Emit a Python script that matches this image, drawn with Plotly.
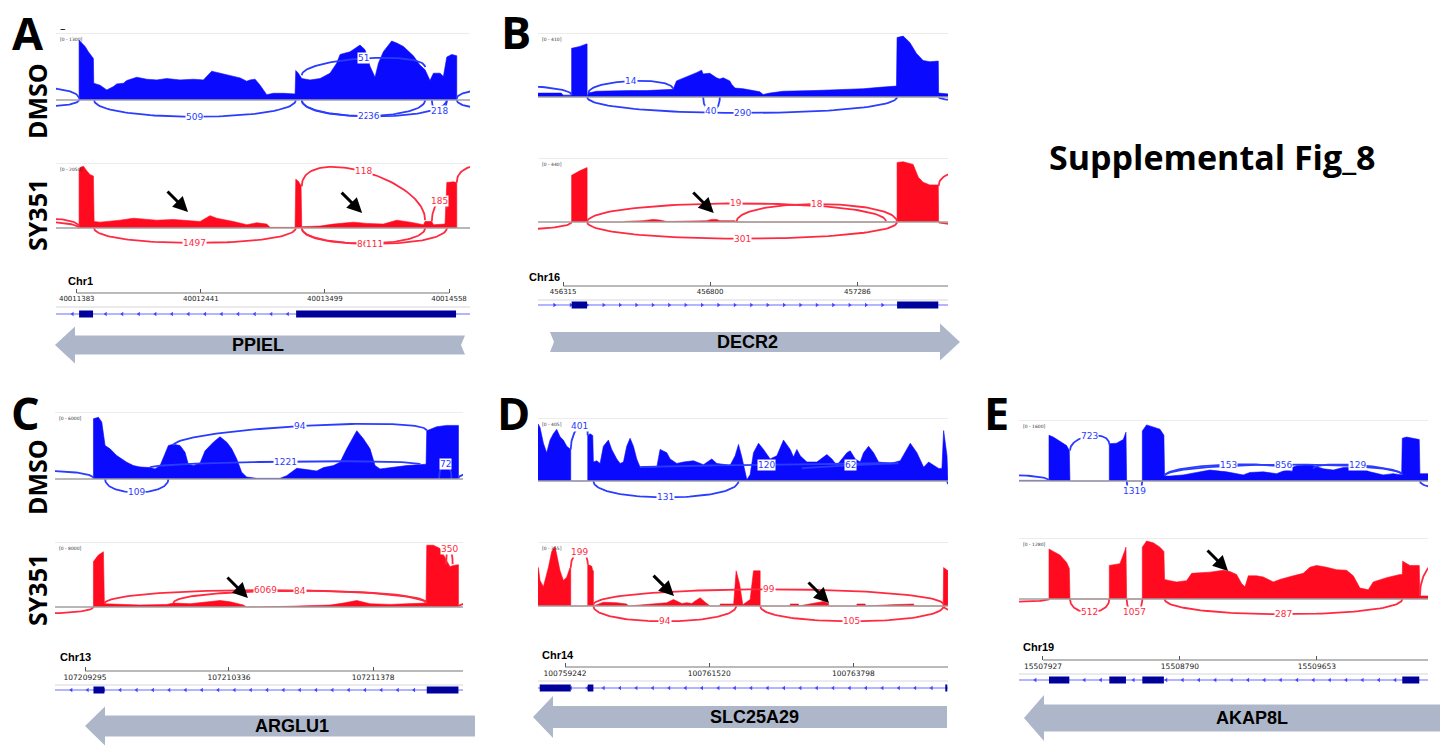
import numpy as np
import plotly.graph_objects as go

W, H = 1445, 746

# ------------------------------------------------------------------ data
# positions are bp offsets from the first ruler tick (region start)
A_chrom, A_start, A_gene, A_strand = "Chr1", 40011383, "PPIEL", -1
A_view = [-177, 3354]
A_ticks = [40011383, 40012441, 40013499, 40014558]
A_exons = [(20, 139), (1871, 3235)]
A_scales = [1300, 2050]
A_dmso_pos = [20, 20, 43, 71, 99, 128, 142, 145, 199, 256, 313, 341, 398, 426, 512, 597, 682, 768,
              881, 995, 1080, 1151, 1222, 1308, 1393, 1450, 1478, 1521, 1564, 1620, 1677, 1763, 1862,
              1868, 1890, 1919, 1990, 2075, 2160, 2217, 2246, 2331, 2416, 2459, 2502, 2544, 2573, 2615,
              2686, 2729, 2786, 2871, 2928, 2971, 3013, 3042, 3099, 3127, 3156, 3198, 3241, 3241]
A_dmso_cov = [0, 1157, 1105, 1040, 936, 858, 806, 325, 286, 195, 260, 312, 325, 377, 442, 403, 390, 416,
              390, 403, 390, 559, 520, 481, 429, 364, 390, 403, 286, 104, 130, 130, 117,
              572, 520, 416, 390, 416, 520, 715, 884, 936, 1066, 975, 650, 442, 715, 936,
              1144, 1105, 1040, 858, 676, 585, 377, 520, 520, 455, 832, 884, 858, 0]
A_sy_pos = [20, 20, 28, 57, 85, 114, 142, 148, 199, 284, 369, 483, 568, 682, 824, 938, 1052, 1137,
            1194, 1336, 1450, 1535, 1620, 1649, 1862, 1868, 1890, 1913, 1919, 2075, 2189, 2360, 2474,
            2615, 2729, 2843, 2957, 2971, 3028, 3042, 3141, 3156, 3212, 3241, 3241]
A_sy_cov = [0, 1800, 1907, 1948, 1804, 1681, 1640, 205, 185, 205, 246, 308, 287, 246, 267, 246, 205, 390,
            308, 205, 103, 164, 123, 20, 20, 1538, 1476, 1333, 41, 62, 123, 185, 144,
            123, 246, 185, 103, 205, 205, 103, 123, 1435, 1456, 1435, 0]
# junctions: (label, start, end, peak, y_start, y_end) heights as fraction of track scale
A_dmso_arcs = [("509", 148, 1868, -0.25, 0, 0), ("22", 1919, 2971, -0.24, 0, 0),
               ("36", 1919, 3156, -0.245, 0, 0), ("218", 3028, 3156, -0.17, 0, 0),
               ("51", 1919, 2971, 0.62, 0.37, 0.49), ("", -700, 20, 0.18, 0, 0.02),
               ("", -700, 20, -0.1, 0, 0), ("", 3241, 4000, 0.16, 0.02, 0), ("", 3241, 4000, -0.14, 0, 0)]
A_sy_arcs = [("1497", 148, 1868, -0.23, 0, 0), ("86", 1919, 2971, -0.24, 0, 0),
             ("111", 1919, 3156, -0.245, 0, 0), ("118", 1919, 2971, 0.87, 0.64, 0.12),
             ("185", 3028, 3156, 0.42, 0.10, 0.3), ("", 3241, 4500, 0.85, 0.7, 0),
             ("", -700, 20, 0.15, 0, 0.02), ("", -800, 20, 0.1, 0, 0)]
A_marks = [(949, 505), (2434, 471)]

B_chrom, B_start, B_gene, B_strand = "Chr16", 456315, "DECR2", 1
B_view = [-83, 1270]
B_ticks = [456315, 456800, 457286]
B_exons = [(28, 79), (1102, 1238)]
B_scales = [410, 440]
B_dmso_pos = [-83, -6, 0, 26, 28, 28, 55, 77, 79, 79, 83, 110, 165, 220, 275, 330, 363, 374, 396, 418,
              440, 457, 462, 484, 506, 517, 528, 550, 556, 567, 594, 627, 649, 660, 682, 726, 770, 825,
              880, 935, 990, 1045, 1100, 1102, 1122, 1144, 1166, 1188, 1210, 1238, 1239, 1270]
B_dmso_cov = [25, 25, 12, 12, 12, 312, 324, 340, 340, 0, 25, 37, 41, 41, 41, 45, 49, 103, 119, 135,
              156, 172, 148, 152, 123, 115, 123, 103, 82, 57, 53, 41, 33, 16, 25, 37, 37, 41,
              45, 49, 53, 62, 70, 381, 390, 349, 279, 234, 226, 230, 25, 20]
B_sy_pos = [28, 28, 55, 77, 79, 79, 204, 204, 264, 297, 319, 341, 363, 440, 457, 473, 490, 506, 517, 567,
            572, 1023, 1023, 1056, 1056, 1102, 1102, 1122, 1155, 1172, 1188, 1210, 1238, 1239]
B_sy_cov = [0, 321, 352, 374, 374, 0, 0, 4, 9, 18, 13, 4, 4, 9, 13, 9, 18, 18, 9, 9,
            0, 0, 4, 4, 0, 0, 409, 414, 396, 308, 273, 255, 255, 0]
B_dmso_arcs = [("14", 83, 363, 0.25, 0.06, 0.12), ("290", 79, 1102, -0.25, 0, 0),
               ("40", 462, 517, -0.22, 0, 0), ("", -500, 28, 0.18, 0, 0.03), ("", 1239, 1700, -0.08, 0, 0)]
B_sy_arcs = [("19", 79, 1065, 0.29, 0, 0.01), ("18", 572, 1102, 0.28, 0, 0),
             ("301", 79, 1102, -0.26, 0, 0), ("", -500, 28, -0.13, 0, 0),
             ("", 1239, 1800, 0.72, 0.56, 0), ("", 1239, 1500, -0.04, 0, 0)]
B_marks = [(497, 62)]

C_chrom, C_start, C_gene, C_strand = "Chr13", 107209295, "ARGLU1", -1
C_view = [-217, 2733]
C_ticks = [107209295, 107210336, 107211378]
C_exons = [(61, 140), (2471, 2700)]
C_scales = [6000, 8000]
C_dmso_pos = [61, 61, 97, 121, 145, 181, 229, 302, 350, 398, 470, 506, 543, 579, 603, 639, 687, 723, 747,
              784, 832, 868, 904, 928, 976, 1025, 1061, 1097, 1133, 1169, 1242, 1410, 1458, 1531, 1603,
              1675, 1724, 1796, 1844, 1892, 1965, 2013, 2061, 2097, 2133, 2206, 2326, 2466, 2471, 2543,
              2615, 2688, 2700, 2700]
C_dmso_cov = [0, 5400, 5520, 5100, 3000, 2700, 2100, 1500, 1200, 1080, 1020, 900, 1200, 2280, 3000, 3120,
              3000, 2400, 1320, 1200, 1440, 2520, 3000, 3300, 3780, 3300, 2700, 1800, 600, 180, 60, 60,
              300, 960, 840, 720, 1020, 1200, 1500, 2700, 4320, 3600, 2700, 1200, 900, 1020, 1200, 1320,
              4320, 4680, 4800, 4800, 4800, 0]
C_sy_pos = [61, 61, 97, 133, 140, 278, 398, 591, 639, 760, 880, 976, 1049, 1145, 1169, 1460, 1470, 1603,
            1772, 1868, 1965, 2061, 2206, 2326, 2466, 2471, 2519, 2567, 2615, 2639, 2663, 2688, 2700, 2700]
C_sy_cov = [0, 5600, 6400, 6800, 400, 320, 240, 320, 480, 400, 640, 800, 640, 240, 0, 0, 80, 160,
            240, 480, 800, 400, 320, 400, 480, 7600, 7600, 7200, 5600, 4960, 5120, 5200, 5200, 0]
C_dmso_arcs = [("94", 639, 2471, 0.79, 0.5, 0.72), ("1221", 470, 2422, 0.26, 0.17, 0.22),
               ("72", 2560, 2650, 0.22, 0, 0), ("109", 145, 603, -0.2, 0, 0),
               ("", -700, 61, 0.12, 0, 0.01), ("", 2700, 3100, 0.1, 0.01, 0)]
C_sy_arcs = [("6069", 140, 2471, 0.26, 0.05, 0.05), ("84", 639, 2471, 0.25, 0.06, 0.06),
             ("350", 2610, 2658, 0.9, 0.66, 0.66), ("", -700, 61, -0.1, 0, 0), ("", 2700, 3100, 0.08, 0, 0)]
C_marks = [(1178, 1108)]

D_chrom, D_start, D_gene, D_strand = "Chr14", 100759242, "SLC25A29", -1
D_view = [-427, 6051]
D_ticks = [100759242, 100761520, 100763798]
D_exons = [(-400, 90), (359, 448), (6008, 6040)]
D_scales = [405, 355]
D_dmso_pos = [-427, -421, -395, -342, -290, -237, -184, -131, -79, -26, 27, 79, 90, 90, 359, 359, 396, 438,
              448, 501, 554, 606, 685, 738, 817, 870, 923, 975, 1028, 1081, 1133, 1186, 1450, 1502, 1555,
              1608, 1660, 1766, 1871, 2029, 2187, 2319, 2398, 2609, 2688, 2741, 2793, 2846, 2873, 2925,
              2978, 3057, 3136, 3241, 3347, 3452, 3558, 3610, 3663, 3716, 3821, 3979, 4137, 4216, 4295,
              4454, 4506, 4585, 4664, 4717, 4796, 4875, 4954, 5139, 5297, 5455, 5560, 5666, 5745, 5824,
              5903, 5955, 5982, 6035, 6050]
D_dmso_cov = [340, 365, 344, 243, 182, 263, 304, 332, 284, 263, 223, 203, 203, 0, 0, 292, 304, 292,
              122, 130, 113, 223, 263, 203, 142, 113, 122, 223, 275, 223, 142, 89, 89, 203, 194,
              182, 142, 113, 122, 130, 105, 142, 113, 101, 162, 235, 154, 41, 8, 41,
              182, 243, 203, 142, 162, 263, 203, 154, 203, 162, 122, 122, 170, 142, 101,
              182, 194, 142, 122, 182, 223, 182, 122, 113, 130, 243, 182, 89, 122, 101,
              81, 81, 324, 162, 0]
D_sy_pos = [-427, -421, -395, -342, -263, -210, -158, -131, -79, -26, 27, 79, 90, 90, 359, 359, 422, 438,
            448, 448, 501, 606, 817, 975, 1002, 1423, 1608, 1713, 1766, 1845, 1924, 2003, 2056, 2135,
            2214, 2266, 2293, 2451, 2451, 2662, 2662, 2704, 2757, 2809, 2925, 2978, 3083, 3083, 3558,
            3558, 3689, 3689, 4006, 4085, 4164, 4164, 4612, 4612, 4743, 4743, 5165, 5244, 5402, 5508,
            5508, 5975, 5982, 6050]
D_sy_cov = [200, 213, 142, 107, 213, 302, 330, 284, 195, 142, 160, 213, 213, 0, 0, 231, 220, 195,
            195, 0, 7, 21, 18, 11, 0, 11, 18, 36, 28, 14, 18, 14, 28, 46,
            21, 7, 0, 0, 11, 11, 0, 195, 124, 7, 36, 195, 195, 0, 0,
            11, 11, 0, 18, 25, 14, 0, 0, 11, 11, 0, 7, 7, 11, 11,
            0, 0, 213, 195]
D_dmso_arcs = [("401", 90, 359, 0.87, 0.5, 0.72), ("120", 1186, 5191, 0.26, 0.22, 0.28),
               ("62", 3742, 5270, 0.25, 0.2, 0.28), ("131", 448, 2741, -0.26, 0, 0),
               ("", 6035, 6500, -0.1, 0, 0)]
D_sy_arcs = [("199", 90, 359, 0.84, 0.6, 0.65), ("99", 448, 5982, 0.26, 0.02, 0.02),
             ("94", 448, 2704, -0.24, 0, 0), ("105", 3083, 5982, -0.24, 0, 0),
             ("", 5982, 6500, -0.08, 0, 0)]
D_marks = [(1722, 55), (4171, 17)]

E_chrom, E_start, E_gene, E_strand = "Chr19", 15507927, "AKAP8L", -1
E_view = [-151, 2426]
E_ticks = [15507927, 15508790, 15509653]
E_exons = [(38, 166), (418, 523), (626, 762), (2264, 2371)]
E_scales = [1600, 1280]
E_dmso_pos = [-151, 34, 38, 38, 65, 107, 149, 166, 170, 418, 418, 464, 506, 523, 527, 626, 626, 653, 695,
              737, 762, 766, 800, 884, 968, 1052, 1157, 1262, 1304, 1388, 1472, 1556, 1598, 1682, 1766,
              1829, 1892, 1976, 2060, 2144, 2207, 2260, 2264, 2291, 2333, 2371, 2375, 2426]
E_dmso_cov = [16, 16, 16, 1200, 1152, 1040, 928, 800, 0, 0, 976, 992, 1088, 1280, 0, 0, 1312, 1472, 1408,
              1360, 1200, 128, 128, 160, 224, 288, 240, 160, 224, 240, 192, 320, 400, 432, 320,
              288, 352, 352, 240, 160, 192, 160, 1120, 1152, 1120, 1088, 192, 192]
E_sy_pos = [38, 38, 65, 107, 149, 166, 170, 418, 418, 485, 517, 523, 527, 626, 626, 653, 695, 737, 762,
            766, 800, 842, 905, 937, 989, 1052, 1136, 1178, 1220, 1252, 1273, 1294, 1346, 1388, 1451,
            1493, 1577, 1640, 1682, 1724, 1787, 1850, 1913, 1955, 1997, 2050, 2081, 2165, 2249, 2264,
            2266, 2312, 2371, 2375, 2426]
E_sy_cov = [0, 1050, 998, 922, 768, 640, 0, 0, 704, 742, 1024, 1088, 0, 0, 1088, 1216, 1178, 1088, 998,
            410, 384, 358, 384, 538, 550, 563, 602, 576, 512, 320, 256, 486, 486, 461, 358,
            410, 486, 538, 666, 704, 666, 614, 602, 486, 230, 192, 358, 448, 512, 512,
            794, 704, 704, 64, 64]
E_dmso_arcs = [("723", 170, 418, 0.74, 0.5, 0.6), ("153", 766, 1566, 0.27, 0.08, 0.15),
               ("856", 766, 2264, 0.27, 0.08, 0.1), ("129", 1703, 2264, 0.26, 0.2, 0.1),
               ("1319", 527, 626, -0.17, 0, 0), ("", -600, 38, 0.1, 0, 0.01), ("", 2375, 2800, -0.13, 0, 0)]
E_sy_arcs = [("512", 170, 418, -0.22, 0, 0), ("1057", 527, 626, -0.22, 0, 0),
             ("287", 766, 2264, -0.25, 0, 0), ("", -600, 38, -0.05, 0, 0), ("", 2375, 2800, 0.7, 0.05, 0)]
E_marks = [(1166, 588)]

TITLE = "Supplemental Fig_8"

PANELS = [
    ("A", A_chrom, A_start, A_view, A_ticks, A_gene, A_strand, A_exons, A_scales,
     [(A_dmso_pos, A_dmso_cov, A_dmso_arcs), (A_sy_pos, A_sy_cov, A_sy_arcs)], A_marks),
    ("B", B_chrom, B_start, B_view, B_ticks, B_gene, B_strand, B_exons, B_scales,
     [(B_dmso_pos, B_dmso_cov, B_dmso_arcs), (B_sy_pos, B_sy_cov, B_sy_arcs)], B_marks),
    ("C", C_chrom, C_start, C_view, C_ticks, C_gene, C_strand, C_exons, C_scales,
     [(C_dmso_pos, C_dmso_cov, C_dmso_arcs), (C_sy_pos, C_sy_cov, C_sy_arcs)], C_marks),
    ("D", D_chrom, D_start, D_view, D_ticks, D_gene, D_strand, D_exons, D_scales,
     [(D_dmso_pos, D_dmso_cov, D_dmso_arcs), (D_sy_pos, D_sy_cov, D_sy_arcs)], D_marks),
    ("E", E_chrom, E_start, E_view, E_ticks, E_gene, E_strand, E_exons, E_scales,
     [(E_dmso_pos, E_dmso_cov, E_dmso_arcs), (E_sy_pos, E_sy_cov, E_sy_arcs)], E_marks),
]

# ------------------------------------------------------------------ layout geometry (pixels)
GEOM = {
    "A": dict(x0=56, x1=470, tr=[(33, 100), (163, 228)], ruler=293, ruler_last=True, gene_y=314,
              chr=(66, 281), letter=(28, 32), tick_fs=7,
              arrow=dict(tip=55, hb=75, tail=465, cy=345, hh=18.5, sh=9.5, notch=4), name_x=258),
    "B": dict(x0=538, x1=948, tr=[(33, 97), (158, 222)], ruler=286, ruler_last=False, gene_y=305,
              chr=(527, 277), letter=(516, 31), tick_fs=7,
              arrow=dict(tip=960, hb=940, tail=550, cy=342, hh=18.5, sh=10, notch=4), name_x=747),
    "C": dict(x0=55, x1=463, tr=[(412, 479), (542, 607)], ruler=671, ruler_last=False, gene_y=690,
              chr=(58, 657), letter=(25, 412), tick_fs=7.5,
              arrow=dict(tip=85, hb=105, tail=475, cy=726, hh=19.5, sh=10.5, notch=0), name_x=292),
    "D": dict(x0=538, x1=948, tr=[(418, 481), (542, 606)], ruler=667, ruler_last=False, gene_y=688,
              chr=(540, 655), letter=(513, 412), tick_fs=7.5,
              arrow=dict(tip=533, hb=553, tail=947, cy=717, hh=21, sh=11, notch=0), name_x=754),
    "E": dict(x0=1019, x1=1428, tr=[(420, 481), (538, 599)], ruler=660, ruler_last=False, gene_y=680,
              chr=(1021, 647), letter=(996, 412), tick_fs=7.5,
              arrow=dict(tip=1024, hb=1044, tail=1440, cy=718, hh=23, sh=13.5, notch=0), name_x=1252),
}
COND_LABELS = [(37, 101, "DMSO"), (37, 215, "SY351"), (37, 477, "DMSO"), (37, 590, "SY351")]

FILL = ["#0a0aff", "#ff0a1e"]
ARC = ["#2a3cff", "#ff2a40"]
GREY_ARROW = "#adb7c9"
BELOW_PX = 22


def fx(p):
    return p / W


def fy(p):
    return 1 - p / H


def arc_xy(x0, x1, y0, y1, peak, m=70):
    k = (peak - (y0 + y1) / 2) / 0.75
    t = np.linspace(0, 1, m)
    c0, c1, c2, c3 = (1 - t) ** 3, 3 * (1 - t) ** 2 * t, 3 * (1 - t) * t ** 2, t ** 3
    xs = (c0 + c1) * x0 + (c2 + c3) * x1
    ys = c0 * y0 + c1 * (y0 + k) + c2 * (y1 + k) + c3 * y1
    return xs, ys


fig = go.Figure()
layout = dict(width=W, height=H, margin=dict(l=0, r=0, t=0, b=0), paper_bgcolor="white",
              plot_bgcolor="white", showlegend=False)
shapes, ann = [], []
count = [0]


def new_axes(xdom, ydom, xrange, yrange):
    count[0] += 1
    n = count[0]
    xa, ya = ("xaxis", "yaxis") if n == 1 else (f"xaxis{n}", f"yaxis{n}")
    xr, yr = ("x", "y") if n == 1 else (f"x{n}", f"y{n}")
    layout[xa] = dict(domain=xdom, range=xrange, visible=False, anchor=yr, fixedrange=True)
    layout[ya] = dict(domain=ydom, range=yrange, visible=False, anchor=xr, fixedrange=True)
    return xr, yr, xa


def text_ann(x, y, text, size, family="Open Sans", angle=0, xanchor="center"):
    return dict(x=fx(x), y=fy(y), xref="paper", yref="paper", text=text, showarrow=False,
                xanchor=xanchor, yanchor="middle", textangle=angle,
                font=dict(size=size, color="black", family=family))


for (key, chrom, start, view, ticks, gene, strand, exons, scales, tracks, marks) in PANELS:
    g = GEOM[key]
    xdom = [fx(g["x0"]), fx(g["x1"])]
    xrange = [start + view[0], start + view[1]]
    sy_axes = None
    for ti, ((pos, cov, arcs), S, (top, base)) in enumerate(zip(tracks, scales, g["tr"])):
        ymin = -S * BELOW_PX / (base - top)
        xr, yr, _ = new_axes(xdom, [fy(base + BELOW_PX), fy(top)], xrange, [ymin, S])
        if ti == 1:
            sy_axes = (xr, yr)
        shapes.append(dict(type="line", xref=f"{xr} domain", x0=0, x1=1, yref=yr, y0=S, y1=S,
                           line=dict(color="#dadada", width=1), layer="below"))
        fig.add_trace(go.Scatter(x=[start + p for p in pos], y=cov, mode="lines", fill="tozeroy",
                                 fillcolor=FILL[ti], line=dict(color=FILL[ti], width=0.6),
                                 xaxis=xr, yaxis=yr, hoverinfo="skip"))
        for (lab, s, e, pk, y0, y1) in arcs:
            xs, ys = arc_xy(start + s, start + e, y0 * S, y1 * S, pk * S)
            fig.add_trace(go.Scatter(x=xs, y=ys, mode="lines", line=dict(color=ARC[ti], width=1.8),
                                     xaxis=xr, yaxis=yr, hoverinfo="skip"))
            if lab:
                ann.append(dict(x=start + (s + e) / 2, y=pk * S, xref=xr, yref=yr, text=lab,
                                showarrow=False, xanchor="center", yanchor="middle",
                                font=dict(size=9, color=ARC[ti], family="DejaVu Sans"),
                                bgcolor="white", borderpad=0))
        shapes.append(dict(type="line", xref=f"{xr} domain", x0=0, x1=1, yref=yr, y0=0, y1=0,
                           line=dict(color="#a0a0a0", width=1.5), layer="above"))
        ann.append(dict(x=0.004, y=S * 0.97, xref=f"{xr} domain", yref=yr, text=f"[0 - {S}]",
                        showarrow=False, xanchor="left", yanchor="top",
                        font=dict(size=4.5, color="#333333", family="DejaVu Sans")))
    # black arrows pointing at retained-intron coverage
    for (off, val) in marks:
        ann.append(dict(x=start + off, y=val, xref=sy_axes[0], yref=sy_axes[1], text="",
                        showarrow=True, ax=-22, ay=-22, arrowhead=2, arrowsize=1, arrowwidth=3,
                        arrowcolor="black", standoff=0))
    # ruler + gene model
    gy = g["gene_y"]
    xr, yr, xa = new_axes(xdom, [fy(gy + 8), fy(gy - 8)], xrange, [-1, 1])
    layout[xa].update(visible=True, anchor="free", position=fy(g["ruler"]), showline=False,
                      showgrid=False, zeroline=False, ticks="inside", ticklen=4, tickwidth=1,
                      tickcolor="#555555", tickvals=ticks, ticktext=[str(t) for t in ticks],
                      tickfont=dict(size=g["tick_fs"], family="DejaVu Sans", color="#222222"))
    r_end = ticks[-1] if g["ruler_last"] else start + view[1]
    shapes.append(dict(type="line", xref=xr, x0=ticks[0], x1=r_end, yref="paper",
                       y0=fy(g["ruler"]), y1=fy(g["ruler"]), line=dict(color="#777777", width=1.2)))
    shapes.append(dict(type="line", xref=f"{xr} domain", x0=0, x1=1, yref="paper",
                       y0=fy(g["ruler"] + 14), y1=fy(g["ruler"] + 14),
                       line=dict(color="#d4d4de", width=1)))
    fig.add_trace(go.Scatter(x=xrange, y=[0, 0], mode="lines", line=dict(color="#6b6bff", width=1.2),
                             xaxis=xr, yaxis=yr, hoverinfo="skip"))
    marks_x = np.linspace(xrange[0], xrange[1], 26)[1:-1]
    fig.add_trace(go.Scatter(x=marks_x, y=np.zeros(len(marks_x)), mode="markers",
                             marker=dict(symbol="triangle-left" if strand < 0 else "triangle-right",
                                         size=4, color="#4444ff"),
                             xaxis=xr, yaxis=yr, hoverinfo="skip"))
    for (s, e) in exons:
        fig.add_trace(go.Scatter(x=[start + s, start + e], y=[0, 0], mode="lines",
                                 line=dict(color="#00009b", width=7), xaxis=xr, yaxis=yr,
                                 hoverinfo="skip"))
    ann.append(text_ann(g["chr"][0], g["chr"][1], f"<b>{chrom}</b>", 11, "Liberation Sans",
                        xanchor="left"))
    # grey gene-direction arrow
    a = g["arrow"]
    sg = 1 if a["tip"] > a["tail"] else -1
    cy = a["cy"]
    pts = [(a["tip"], cy), (a["hb"], cy - a["hh"]), (a["hb"], cy - a["sh"]), (a["tail"], cy - a["sh"]),
           (a["tail"] + sg * a["notch"], cy), (a["tail"], cy + a["sh"]), (a["hb"], cy + a["sh"]),
           (a["hb"], cy + a["hh"])]
    path = "M " + " L ".join(f"{fx(x):.5f},{fy(y):.5f}" for x, y in pts) + " Z"
    shapes.append(dict(type="path", xref="paper", yref="paper", path=path, fillcolor=GREY_ARROW,
                       line=dict(width=0), layer="below"))
    ann.append(text_ann(g["name_x"], cy, f"<b>{gene}</b>", 18, "Liberation Sans"))
    ann.append(text_ann(g["letter"][0], g["letter"][1], f"<b>{key}</b>", 45))

for (x, y, t) in COND_LABELS:
    ann.append(text_ann(x, y, f"<b>{t}</b>", 25, angle=-90))
ann.append(text_ann(63, 27, "–", 11))
ann.append(text_ann(1212, 157, f"<b>{TITLE}</b>", 34))

layout["shapes"] = shapes
layout["annotations"] = ann
fig.update_layout(**layout)
fig.write_html("out.html", config={"displayModeBar": False},
               post_script="document.body.style.margin='0px';")
